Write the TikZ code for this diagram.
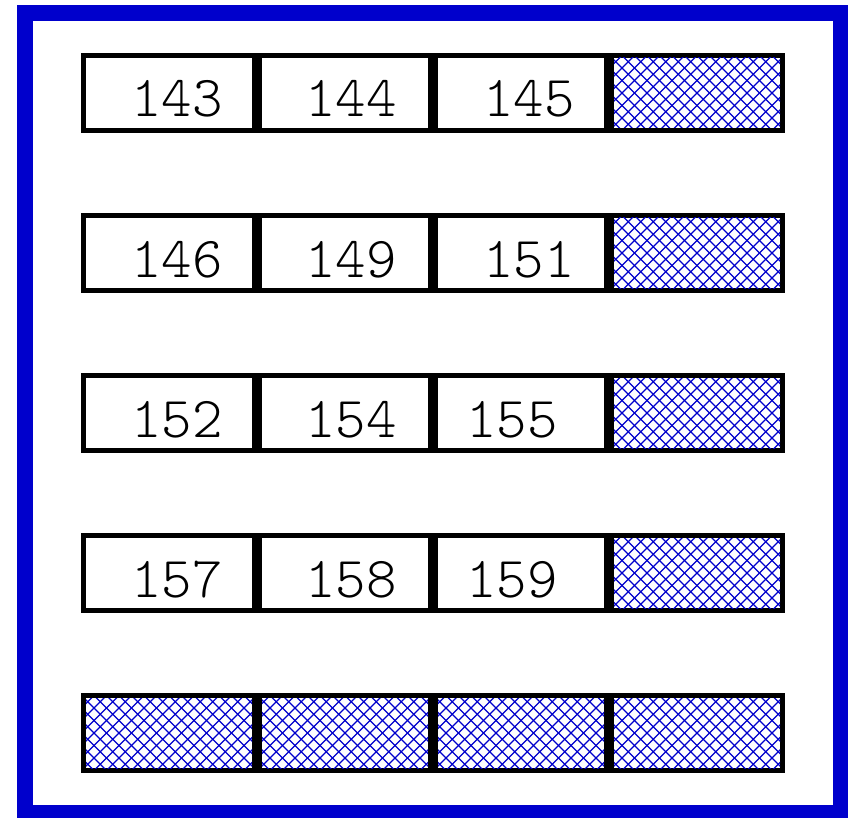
\documentclass[tikz,border=0pt]{standalone}
\usepackage{fontspec}
\definecolor{frameblue}{RGB}{0,0,204}
\tikzset{
  cellbox/.style={draw=black, line width=5pt, fill=white, rectangle, inner sep=0pt,
    minimum width=171pt, minimum height=75pt},
  numtext/.style={anchor=base, inner sep=0pt, font=\ttfamily\fontseries{l}\fontsize{58}{62}\selectfont, text=black},
  hatchline/.style={draw=frameblue, line width=1.2pt},
}
\newcommand{\hatchcell}[2]{%
  \begin{scope}
    \clip (#1-83,#2-35) rectangle (#1+83,#2+35);
    \foreach \k in {-12,...,12} {
      \draw[hatchline] (#1+\k*12.5-50,#2-50) -- ++(100,100);
      \draw[hatchline] (#1+\k*12.5+50,#2-50) -- ++(-100,100);
    }
  \end{scope}}
\begin{document}
\begin{tikzpicture}[x=1pt,y=-1pt]
\useasboundingbox (0,0) rectangle (848,818);
\fill[white] (0,0) rectangle (848,818);
\draw[frameblue, line width=16pt] (25,13) rectangle (841,813);
% rows 1-4
\foreach \r/\a/\b/\c/\cx in {0/143/144/145/529, 1/146/149/151/529, 2/152/154/155/512, 3/157/158/159/512} {
  \pgfmathsetmacro{\cy}{93+160*\r}
  \node[cellbox] (c\r a) at (169,\cy) {};
  \node[cellbox] (c\r b) at (345,\cy) {};
  \node[cellbox] (c\r c) at (521,\cy) {};
  \node[cellbox] (c\r d) at (697,\cy) {};
  \hatchcell{697}{\cy}
  \node[numtext] (t\r a) at (177,\cy+24) {\a};
  \node[numtext] (t\r b) at (351,\cy+24) {\b};
  \node[numtext] (t\r c) at (\cx,\cy+24) {\c};
}
% row 5
\foreach \x [count=\i] in {169,345,521,697} {
  \node[cellbox] (c4\i) at (\x,733) {};
  \hatchcell{\x}{733}
}
\end{tikzpicture}
\end{document}
